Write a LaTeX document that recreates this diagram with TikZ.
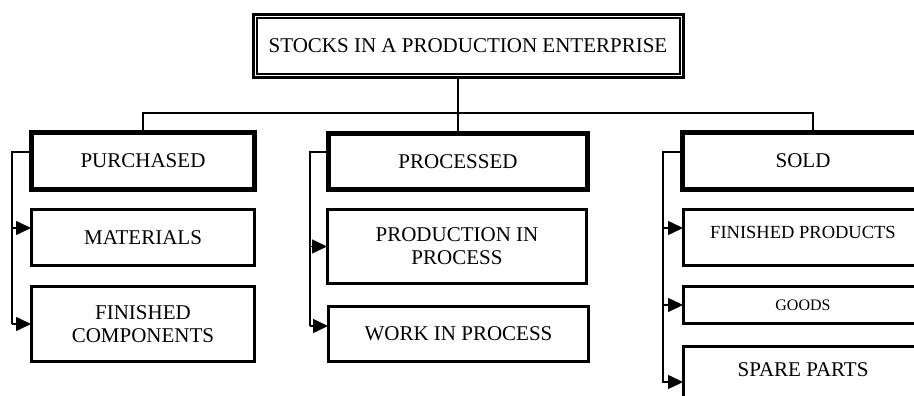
\documentclass[tikz,border=0pt]{standalone}
\usepackage{fontspec}
\setmainfont{Liberation Serif}
\usetikzlibrary{arrows.meta}
\tikzset{
  mainbox/.style={draw, line width=5pt, inner sep=0pt, align=center, font=\fontsize{21}{23}\selectfont},
  subbox/.style={draw, line width=3pt, inner sep=0pt, align=center, font=\fontsize{21}{23}\selectfont},
  conn/.style={line width=1.5pt},
  arr/.style={line width=1.5pt, -{Triangle[length=15pt,width=14pt]}, shorten >=-1pt}
}
\begin{document}
\begin{tikzpicture}[x=1pt,y=-1pt]
\clip (0,0) rectangle (914,396);
\fill[white] (0,0) rectangle (914,396);
% top box
\node[draw, line width=3pt, minimum width=430pt, minimum height=63pt, inner sep=0pt] (top) at (468,46) {};
\node[font=\fontsize{21}{23}\selectfont, inner sep=0pt] (toptext) at (468,46) {STOCKS IN A PRODUCTION ENTERPRISE};
\draw[line width=2pt] ([shift={(5pt,-5pt)}]top.north west) rectangle ([shift={(-5pt,5pt)}]top.south east);
% level one
\node[mainbox, minimum width=223pt, minimum height=57pt] (pur) at (143,161) {PURCHASED};
\node[mainbox, minimum width=259pt, minimum height=56pt] (proc) at (458,161.5) {PROCESSED};
\node[mainbox, minimum width=241pt, minimum height=57pt] (sold) at (803,161) {SOLD};
% purchased children
\node[subbox, minimum width=223pt, minimum height=56pt] (mat) at (143,237.5) {MATERIALS};
\node[subbox, minimum width=223pt, minimum height=75pt] (fc) at (143,324) {FINISHED\\COMPONENTS};
% processed children
\node[subbox, minimum width=259pt, minimum height=74pt] (pip) at (457,246.5) {PRODUCTION IN\\PROCESS};
\node[subbox, minimum width=260pt, minimum height=55pt] (wip) at (458.5,334) {WORK IN PROCESS};
% sold children
\node[subbox, minimum width=239pt, minimum height=56pt] (fp) at (803,237.5) {};
\node[inner sep=0pt, font=\fontsize{18.5}{20}\selectfont] (fptext) at (803,232.5) {FINISHED PRODUCTS};
\node[subbox, minimum width=239pt, minimum height=37pt, font=\fontsize{16}{18}\selectfont] (goods) at (803,305) {GOODS};
\node[subbox, anchor=north, minimum width=239pt, inner ysep=0pt, text height=30.5pt, text depth=45pt] (sp) at (803,344.5) {SPARE PARTS};
% bus
\coordinate (bus) at (458,113);
\draw[conn] (top.south -| bus) -- (bus);
\draw[conn] (pur.north) |- (bus) -| ([xshift=10pt]sold.north);
\draw[conn] (bus) -- (proc.north -| bus);
% left brackets
\coordinate (l1) at (12,0);
\coordinate (l2) at (310,0);
\coordinate (l3) at (663,0);
\coordinate (spa) at (0,382);
\draw[conn] ([yshift=9pt]pur.west) -| (l1 |- fc.west);
\draw[arr] ([yshift=9.5pt]l1 |- mat.west) -- ([yshift=9.5pt]mat.west);
\draw[arr] (l1 |- fc.west) -- (fc.west);
\draw[conn] ([yshift=9.5pt]proc.west) -| ([yshift=8pt]l2 |- wip.west);
\draw[arr] (l2 |- pip.west) -- (pip.west);
\draw[arr] ([yshift=8pt]l2 |- wip.west) -- ([yshift=8pt]wip.west);
\draw[conn] ([yshift=9pt]sold.west) -| ([yshift=-1pt]l3 |- spa);
\draw[arr] ([yshift=9.5pt]l3 |- fp.west) -- ([yshift=9.5pt]fp.west);
\draw[arr] (l3 |- goods.west) -- (goods.west);
\draw[arr] (l3 |- spa) -- (sp.west |- spa);
\end{tikzpicture}
\end{document}
